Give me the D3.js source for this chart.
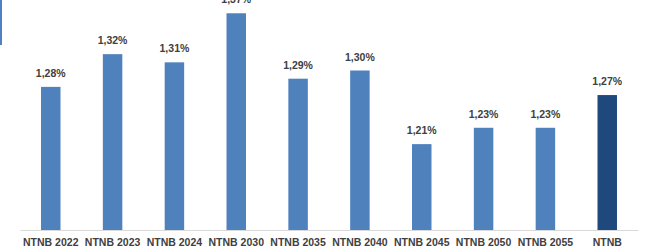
<!DOCTYPE html>
<html>
<head>
<meta charset="utf-8">
<script src="https://cdn.jsdelivr.net/npm/d3@7"></script>
<style>
  body { margin:0; background:#fff; }
  svg { display:block; font-family:"Liberation Sans", Arial, sans-serif; }
</style>
</head>
<body>
<svg class="chart"></svg>
<script>
var categories = ["NTNB 2022","NTNB 2023","NTNB 2024","NTNB 2030","NTNB 2035","NTNB 2040","NTNB 2045","NTNB 2050","NTNB 2055","NTNB"];
var values = [1.28, 1.32, 1.31, 1.37, 1.29, 1.30, 1.21, 1.23, 1.23, 1.27];
var labels = ["1,28%","1,32%","1,31%","1,37%","1,29%","1,30%","1,21%","1,23%","1,23%","1,27%"];
var yDomain = [1.105, 1.385];

var drawChart = function(w,h)
{
  var svg = d3.select(".chart")
              .attr("width",w)
              .attr("height",h);

  var margins = {top:1, bottom:21, left:20, right:8};
  var baseY = h - margins.bottom;

  var xScale = d3.scaleBand()
                 .domain(categories)
                 .range([margins.left, w - margins.right])
                 .paddingInner(0.685)
                 .paddingOuter(0.34);
  var yScale = d3.scaleLinear()
                 .domain(yDomain)
                 .range([baseY, margins.top]);

  // bit of blue frame at the left edge
  svg.append("rect")
     .attr("x",0).attr("y",0)
     .attr("width",2).attr("height",45)
     .attr("fill","#4f81c4");

  var data = categories.map(function(c,i){
    return {cat:c, value:values[i], label:labels[i], last: i==categories.length-1};
  });

  svg.append("g").selectAll("rect")
     .data(data)
     .enter().append("rect")
     .attr("x",function(d){return xScale(d.cat)})
     .attr("y",function(d){return yScale(d.value)})
     .attr("width",xScale.bandwidth())
     .attr("height",function(d){return baseY - yScale(d.value)})
     .attr("fill",function(d){return d.last ? "#1f497d" : "#4f81bd"});

  svg.append("g").selectAll("text")
     .data(data)
     .enter().append("text")
     .attr("x",function(d){return xScale(d.cat) + xScale.bandwidth()/2})
     .attr("y",function(d){return yScale(d.value) - 10})
     .attr("text-anchor","middle")
     .attr("font-size","10.5px")
     .attr("font-weight","bold")
     .attr("fill","#404040")
     .text(function(d){return d.label});

  var xAxis = d3.axisBottom(xScale).tickSize(0).tickPadding(9);
  var ax = svg.append("g")
     .attr("transform","translate(0,"+baseY+")")
     .call(xAxis);
  ax.select(".domain").attr("stroke","#d9d9d9").attr("stroke-width",1);
  ax.selectAll("text")
    .attr("font-size","10.5px")
    .attr("font-weight","bold")
    .attr("font-family","'Liberation Sans', Arial, sans-serif")
    .attr("fill","#404040");
}

drawChart(646,251);
</script>
</body>
</html>
